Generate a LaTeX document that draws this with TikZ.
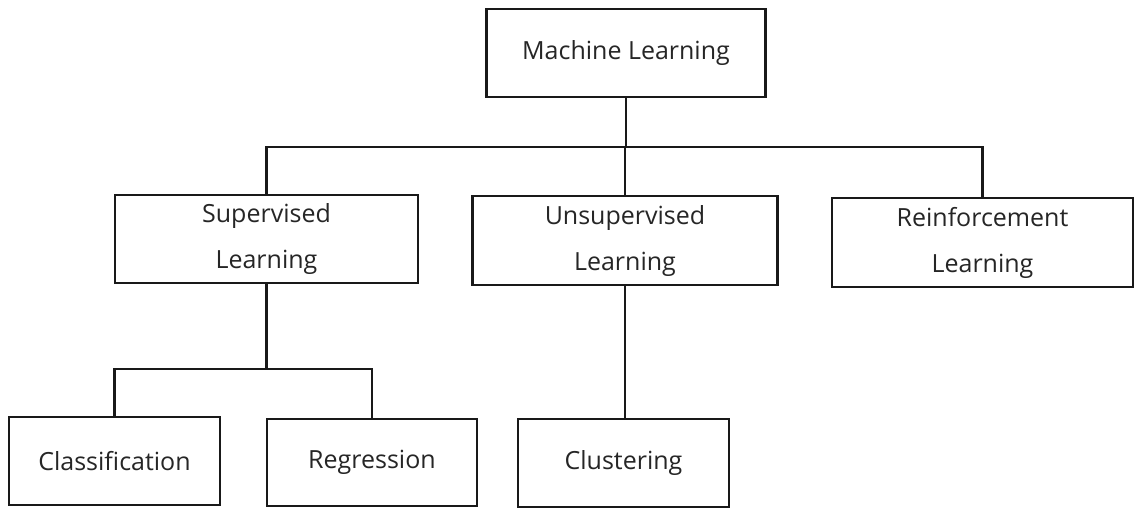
\documentclass[tikz,border=0pt]{standalone}
\usepackage{fontspec}
\setmainfont{Open Sans}
\begin{document}
\begin{tikzpicture}[x=1pt,y=-1pt,
  box/.style={draw=black!90, line width=2.6pt, inner sep=0pt, align=center,
    font=\fontsize{25}{46}\selectfont, text=black!85},
  conn/.style={draw=black!90, line width=2.4pt}]
\useasboundingbox[fill=white] (0,0) rectangle (1138,507);
\node[box, minimum width=279pt, minimum height=88pt] (ml) at (626,53) {Machine Learning};
\node[box, minimum width=303pt, minimum height=88pt] (sup) at (266.5,239) {Supervised\\Learning};
\node[box, minimum width=305pt, minimum height=89pt] (uns) at (625,240.5) {Unsupervised\\Learning};
\node[box, minimum width=301pt, minimum height=89pt] (rei) at (982.5,242.5) {Reinforcement\\Learning};
\node[box, minimum width=211pt, minimum height=88pt] (cla) at (114.5,461) {Classification};
\node[box, minimum width=210pt, minimum height=87pt] (reg) at (372,462.5) {Regression};
\node[box, minimum width=211pt, minimum height=88pt] (clu) at (623.5,463) {Clustering};
\coordinate (b1) at (626,147);
\coordinate (b2) at (266.5,369);
\draw[conn] (ml.south) -- (b1);
\draw[conn] (sup.north) |- (b1) -| (rei.north);
\draw[conn] (uns.north |- b1) -- (uns.north);
\draw[conn] (sup.south) -- (b2);
\draw[conn] (cla.north) |- (b2) -| (reg.north);
\draw[conn] (uns.south) -- (uns.south |- clu.north);
\end{tikzpicture}
\end{document}
